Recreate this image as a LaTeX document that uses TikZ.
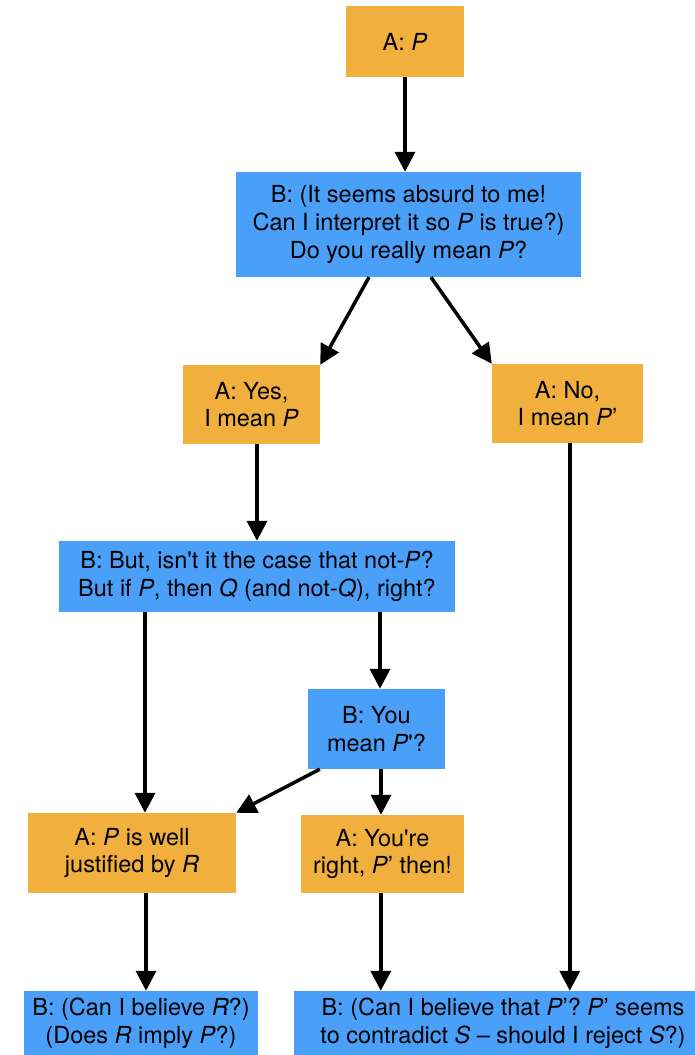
\documentclass[tikz,border=0pt]{standalone}
\usepackage{fontspec}
\setmainfont{TeX Gyre Heros}[Ligatures=TeXOff]
\usetikzlibrary{arrows.meta,calc}
\definecolor{aorange}{RGB}{241,176,62}
\definecolor{bblue}{RGB}{74,160,248}
\begin{document}
\begin{tikzpicture}[x=1pt,y=-1pt,
  box/.style={inner sep=0pt, align=center, font=\fontsize{23.5}{27.6}\selectfont},
  abox/.style={box, fill=aorange},
  bbox/.style={box, fill=bblue},
  arr/.style={line width=3.5pt, -{Triangle[length=20pt,width=20pt]}}]
\useasboundingbox (0,0) rectangle (695,1055);
\clip (0,0) rectangle (695,1055);
\node[abox, minimum width=118pt, minimum height=71pt] (n1) at (405,41.5) {A: \textit{P}};
\node[bbox, minimum width=345pt, minimum height=105pt] (n2) at (408.5,224.5) {B: (It seems absurd to me!\\Can I interpret it so \textit{P} is true?)\\Do you really mean \textit{P}?};
\node[abox, minimum width=137pt, minimum height=79pt] (n3) at (251.5,404.5) {A: Yes,\\I mean \textit{P}};
\node[abox, minimum width=151pt, minimum height=79pt] (n4) at (567.5,403.5) {A: No,\\I mean \textit{P}’};
\node[bbox, minimum width=396pt, minimum height=71pt] (n5) at (257,576.5) {B: But, isn't it the case that not-\textit{P}?\\But if \textit{P}, then \textit{Q} (and not-\textit{Q}), right?};
\node[bbox, minimum width=137pt, minimum height=80pt] (n6) at (376.5,729) {B: You\\mean \textit{P}'?};
\node[abox, minimum width=208pt, minimum height=80pt] (n7) at (132,853) {A: \textit{P} is well\\justified by \textit{R}};
\node[abox, minimum width=163pt, minimum height=78pt] (n8) at (382.5,854) {A: You're\\right, \textit{P}’ then!};
\node[bbox, minimum width=234pt, minimum height=64pt] (n9) at (141,1023) {B: (Can I believe \textit{R}?)\\(Does \textit{R} imply \textit{P}?)};
\node[bbox, minimum width=418pt, minimum height=64pt] (n10) at (503,1023) {B: (Can I believe that \textit{P}’? \textit{P}’ seems\\to contradict \textit{S} – should I reject \textit{S}?)};
\coordinate (c7) at ($(n7.north)+(13,0)$);
\coordinate (c6) at ($(n6.north)+(3.5,0)$);
\coordinate (c8) at ($(n8.north)+(-1.5,0)$);
\coordinate (c9) at ($(n9.north)+(5,0)$);
\coordinate (c10a) at ($(n10.north west)+(87,0)$);
\coordinate (c10b) at ($(n10.north west)+(276,0)$);
\draw[arr] (n1.south) -- (n1.south |- n2.north);
\draw[arr] ($(n2.south)+(-39.5,0)$) -- (n3.north east);
\draw[arr] ($(n2.south)+(22.5,0)$) -- (n4.north west);
\draw[arr] (n5.north |- n3.south) -- (n5.north);
\draw[arr] (c7 |- n5.south) -- (c7);
\draw[arr] (c6 |- n5.south) -- (c6);
\draw[arr] (c8 |- n6.south) -- (c8);
\draw[arr] ($(n6.south west)+(12,0)$) -- (n7.north east);
\draw[arr] (c9 |- n7.south) -- (c9);
\draw[arr] (c10a |- n8.south) -- (c10a);
\draw[arr] (c10b |- n4.south) -- (c10b);
\end{tikzpicture}
\end{document}
